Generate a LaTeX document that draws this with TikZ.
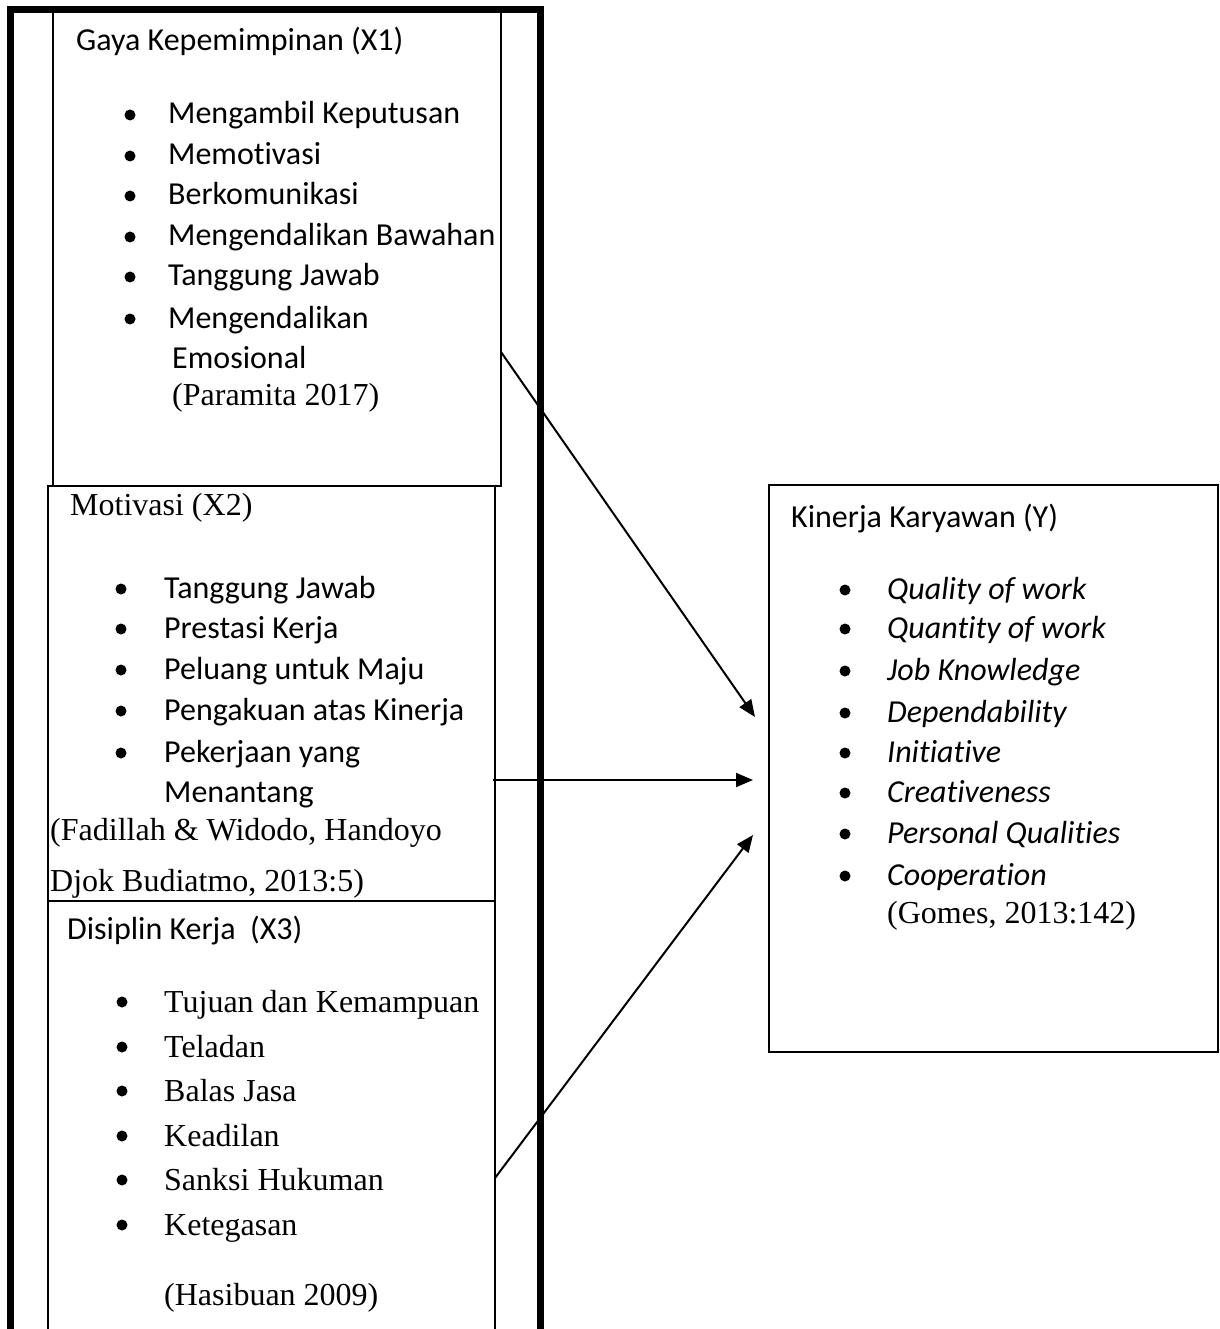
\documentclass[tikz,border=0pt]{standalone}
\usepackage{fontspec}
\setmainfont{Liberation Serif}
\newfontfamily\calfont{Carlito}[Ligatures=NoCommon,Contextuals=NoAlternate]
\usetikzlibrary{arrows.meta,calc}
\begin{document}
\begin{tikzpicture}[x=1pt,y=-1pt,
  cal/.style={font=\calfont\fontsize{32}{38}\selectfont, anchor=base west, inner sep=0pt},
  calit/.style={font=\calfont\itshape\fontsize{32}{38}\selectfont, anchor=base west, inner sep=0pt},
  tnr/.style={font=\fontsize{32}{38}\selectfont, anchor=base west, inner sep=0pt},
  box/.style={draw, line width=2pt, inner sep=0pt, outer sep=0pt, anchor=north west},
  frameline/.style={line width=7pt, line join=miter},
  arr/.style={line width=2pt, -{Triangle[length=17pt,width=14pt]}},
  bul/.style={fill=black}]
\useasboundingbox (0,0) rectangle (1219,1329);
\fill[white] (0,0) rectangle (1219,1329);

% boxes
\node[box, minimum width=448pt, minimum height=476pt] (x1) at (53,10) {};
\node[box, minimum width=447pt, minimum height=415pt] (x2) at (48,486) {};
\node[box, minimum width=447pt, minimum height=440pt] (x3) at (48,901) {};
\node[box, line width=2.5pt, minimum width=449pt, minimum height=567pt] (y) at (769,485) {};

% thick frame
\draw[frameline] (10,1345) -- (10,10) -- (540,10) -- (540,1345);

% X1 text
\node[cal] (t1) at (76,51) {Gaya Kepemimpinan (X1)};
\foreach \b/\t [count=\i] in {124/Mengambil Keputusan,165/Memotivasi,205/Berkomunikasi,246/Mengendalikan Bawahan,286/Tanggung Jawab,328/Mengendalikan}{
  \fill[bul] (130,\b-9) circle (5.5);
  \node[cal] (a\i) at (168,\b) {\t};
}
\node[cal] (a7) at (172,368) {Emosional};
\node[tnr] (r1) at (172,405) {(Paramita 2017)};

% X2 text
\node[tnr] (t2) at (70,515) {Motivasi (X2)};
\foreach \b/\t [count=\i] in {598/Tanggung Jawab,638/Prestasi Kerja,679/Peluang untuk Maju,720/Pengakuan atas Kinerja,762/Pekerjaan yang}{
  \fill[bul] (121,\b-9) circle (5.5);
  \node[cal] (b\i) at (164,\b) {\t};
}
\node[cal] (b6) at (164,802) {Menantang};
\node[tnr] (r2) at (50,840) {(Fadillah \& Widodo, Handoyo};
\node[tnr] (r2b) at (50,891) {Djok Budiatmo, 2013:5)};

% X3 text
\node[cal] (t3) at (67,939) {Disiplin Kerja\ \ (X3)};
\foreach \b/\t [count=\i] in {1012/Tujuan dan Kemampuan,1057/Teladan,1101/Balas Jasa,1146/Keadilan,1190/Sanksi Hukuman,1235/Ketegasan}{
  \fill[bul] (122,\b-10) circle (5.5);
  \node[tnr] (c\i) at (164,\b) {\t};
}
\node[tnr] (r3) at (164,1305) {(Hasibuan 2009)};

% Y text
\node[cal] (ty) at (791,527) {Kinerja Karyawan (Y)};
\foreach \b/\t [count=\i] in {599/Quality of work,638/Quantity of work,680/Job Knowledge,722/Dependability,762/Initiative,802/Creativeness,843/Personal Qualities,885/Cooperation}{
  \fill[bul] (845,\b-9) circle (5.5);
  \node[calit] (d\i) at (887,\b) {\t};
}
\node[tnr] (ry) at (887,923) {(Gomes, 2013:142)};

% connectors
\coordinate (s1) at ($(x1.north east)+(0,342)$);
\coordinate (s2) at (493,780);
\coordinate (s3) at ($(x3.north east)+(0,277)$);
\coordinate (e1) at (755,717);
\coordinate (e2) at (753,780);
\coordinate (e3) at (753,835);
\draw[arr] (s1) -- (e1);
\draw[arr] (s2) -- (e2);
\draw[arr] (s3) -- (e3);
\end{tikzpicture}
\end{document}
